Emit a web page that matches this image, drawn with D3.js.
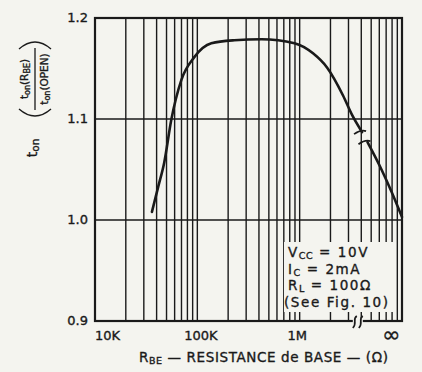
<!DOCTYPE html>
<html>
<head>
<meta charset="utf-8">
<script src="https://cdn.jsdelivr.net/npm/d3@7"></script>
<style>
  html, body { margin: 0; padding: 0; background: #f4f4ef; }
  svg { display: block; }
  text { font-family: "DejaVu Sans", "Liberation Sans", Arial, sans-serif; fill: #1a1a1a; stroke: #1a1a1a; stroke-width: 0.35; }
</style>
</head>
<body>
<svg id="chart" width="422" height="372"></svg>
<script>
// Switching-time ratio vs. base-emitter resistance
const xTickValues = [1e4, 1e5, 1e6, 1e7];
const xTickLabels = ["10K", "100K", "1M", "\u221E"];
const yTickValues = [0.9, 1.0, 1.1, 1.2];
const yTickLabels = ["0.9", "1.0", "1.1", "1.2"];

// curve, drawn in two pieces around the axis break
const rbeLow  = [36e3, 41.5e3, 47.5e3, 55.6e3, 70e3, 93e3, 137e3, 230e3, 425e3, 890e3, 1.35e6, 1.85e6, 2.66e6, 3.25e6, 4.07e6];
const ratioLow = [1.008, 1.033, 1.057, 1.099, 1.139, 1.161, 1.175, 1.178, 1.179, 1.175, 1.165, 1.151, 1.123, 1.104, 1.087];
const rbeHigh  = [4.6e6, 6.3e6, 7.9e6, 1e7];
const ratioHigh = [1.077, 1.050, 1.028, 1.003];

const conditions = [
  ["V", "CC", " = 10V"],
  ["I", "C", " = 2mA"],
  ["R", "L", " = 100\u03A9"],
  ["(See Fig. 10)", "", ""]
];

const ink = "#1a1a1a";
const paper = "#f4f4ef";
const svg = d3.select("#chart");

const plotL = 95, plotR = 402, plotT = 18, plotB = 321;
const x = d3.scaleLog().domain([1e4, 1e7]).range([plotL, plotR]);
const y = d3.scaleLinear().domain([0.9, 1.2]).range([plotB, plotT]);

// log grid: every 1..9 step in each decade
const gridX = [];
for (let d = 4; d < 7; d++) for (let k = 1; k <= 9; k++) gridX.push(k * Math.pow(10, d));
gridX.push(1e7);

const grid = svg.append("g");
grid.selectAll("line.v").data(gridX).join("line")
  .attr("class", "v")
  .attr("x1", d => x(d)).attr("x2", d => x(d))
  .attr("y1", plotT).attr("y2", plotB)
  .attr("stroke", ink).attr("stroke-width", 1.4);
grid.selectAll("line.h").data([1.0, 1.1]).join("line")
  .attr("class", "h")
  .attr("x1", plotL).attr("x2", plotR)
  .attr("y1", d => y(d)).attr("y2", d => y(d))
  .attr("stroke", ink).attr("stroke-width", 1.7);

// frame
svg.append("rect")
  .attr("x", plotL).attr("y", plotT)
  .attr("width", plotR - plotL).attr("height", plotB - plotT)
  .attr("fill", "none").attr("stroke", ink).attr("stroke-width", 2.2);

// test-condition block sits on a clear patch of the grid
svg.append("rect")
  .attr("x", 284).attr("y", 242).attr("width", 110).attr("height", 70)
  .attr("fill", paper);
const cond = svg.append("g");
conditions.forEach((c, i) => {
  const t = cond.append("text")
    .attr("x", c[1] ? 288 : 284).attr("y", 257 + i * 16.6)
    .attr("font-size", 13.5).attr("letter-spacing", 1.6);
  t.append("tspan").text(c[0]);
  if (c[1]) t.append("tspan").attr("font-size", 9.5).attr("dy", 2).attr("letter-spacing", 0.5).text(c[1]);
  if (c[2]) t.append("tspan").attr("dy", c[1] ? -2 : 0).text(c[2]);
});

// curve
const line = d3.line().x(d => x(d[0])).y(d => y(d[1])).curve(d3.curveMonotoneX);
const lowPts = rbeLow.map((r, i) => [r, ratioLow[i]]);
const highPts = rbeHigh.map((r, i) => [r, ratioHigh[i]]);
[lowPts, highPts].forEach(pts => {
  svg.append("path").attr("d", line(pts))
    .attr("fill", "none").attr("stroke", ink)
    .attr("stroke-width", 2.6).attr("stroke-linecap", "round");
});

// break ticks across the curve
const endLow = lowPts[lowPts.length - 1];
const startHigh = highPts[0];
[[x(endLow[0]) - 1, y(endLow[1])], [x(startHigh[0]) - 2, y(startHigh[1])]].forEach(p => {
  svg.append("path")
    .attr("d", `M${p[0] - 7},${p[1] + 2} Q${p[0]},${p[1] - 3} ${p[0] + 5},${p[1] - 1}`)
    .attr("fill", "none").attr("stroke", ink).attr("stroke-width", 1.7);
});

// break symbol on the bottom axis
const bx = x(3.7e6);
svg.append("rect").attr("x", bx - 5).attr("y", plotB - 3).attr("width", 10).attr("height", 6).attr("fill", paper);
[-3, 3].forEach(o => {
  svg.append("path")
    .attr("d", `M${bx + o + 2},${plotB - 5} C${bx + o - 3},${plotB - 2} ${bx + o + 3},${plotB + 2} ${bx + o - 2},${plotB + 7}`)
    .attr("fill", "none").attr("stroke", ink).attr("stroke-width", 1.7);
});

// axes (labels only; the frame carries the lines)
const xAxis = d3.axisBottom(x).tickValues(xTickValues)
  .tickFormat((d, i) => xTickLabels[i]).tickSize(0).tickPadding(0);
const gx = svg.append("g").attr("transform", `translate(0,${plotB})`).call(xAxis);
gx.select(".domain").remove();
gx.selectAll("text")
  .attr("font-size", 13).attr("fill", ink)
  .attr("font-family", "DejaVu Sans, sans-serif")
  .attr("dy", 0).attr("y", 19)
  .attr("dx", (d, i) => [12, 3, -3, -11][i]);
gx.selectAll("text").filter((d, i) => i === 3).attr("font-size", 22).attr("y", 21);

const yAxis = d3.axisLeft(y).tickValues(yTickValues)
  .tickFormat((d, i) => yTickLabels[i]).tickSize(0).tickPadding(7);
const gy = svg.append("g").attr("transform", `translate(${plotL},0)`).call(yAxis);
gy.select(".domain").remove();
gy.selectAll("text")
  .attr("font-size", 13).attr("fill", ink)
  .attr("font-family", "DejaVu Sans, sans-serif")
  .attr("dy", "0.3em");

// x title
const xt = svg.append("text").attr("x", 139).attr("y", 362)
  .attr("font-size", 13.5).attr("letter-spacing", 0.6);
xt.append("tspan").text("R");
xt.append("tspan").attr("font-size", 9.5).attr("dy", 2).text("BE");
xt.append("tspan").attr("dy", -2).text(" \u2014 RESISTANCE de BASE \u2014 (\u03A9)");

// y title: t_on ( t_on(R_BE) / t_on(OPEN) ), reading upward
const yt = svg.append("g");
const on = yt.append("text").attr("transform", "translate(37,148) rotate(-90)")
  .attr("text-anchor", "middle").attr("font-size", 14);
on.append("tspan").text("t");
on.append("tspan").attr("font-size", 10.5).attr("dy", 2).text("on");

const num = yt.append("text").attr("transform", "translate(28,79) rotate(-90)")
  .attr("text-anchor", "middle").attr("font-size", 10.5);
num.append("tspan").text("t");
num.append("tspan").attr("font-size", 8).attr("dy", 1.5).text("on");
num.append("tspan").attr("dy", -1.5).text("(R");
num.append("tspan").attr("font-size", 8).attr("dy", 1.5).text("BE");
num.append("tspan").attr("dy", -1.5).text(")");

const den = yt.append("text").attr("transform", "translate(48,79) rotate(-90)")
  .attr("text-anchor", "middle").attr("font-size", 10.5);
den.append("tspan").text("t");
den.append("tspan").attr("font-size", 8).attr("dy", 1.5).text("on");
den.append("tspan").attr("dy", -1.5).text("(OPEN)");

yt.append("line").attr("x1", 35).attr("x2", 35).attr("y1", 48).attr("y2", 110)
  .attr("stroke", ink).attr("stroke-width", 1.3);
// enclosing parentheses
yt.append("path").attr("d", "M19,49 Q35,35 51,49").attr("fill", "none").attr("stroke", ink).attr("stroke-width", 1.4);
yt.append("path").attr("d", "M19,109 Q35,123 51,109").attr("fill", "none").attr("stroke", ink).attr("stroke-width", 1.4);
</script>
</body>
</html>
